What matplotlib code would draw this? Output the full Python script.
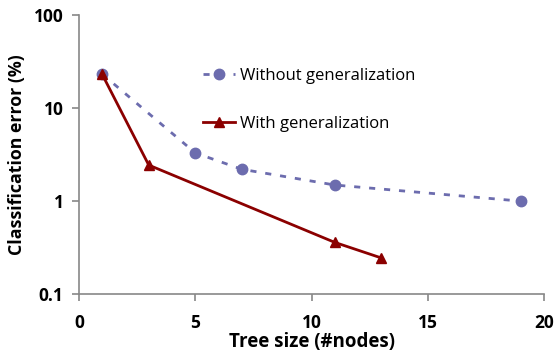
import matplotlib
matplotlib.use("Agg")
import matplotlib.pyplot as plt
from matplotlib.ticker import FixedLocator, FixedFormatter, NullLocator

plt.rcParams['font.family'] = ['Open Sans', 'DejaVu Sans']

# tree size (#nodes) and classification error (%)
x_without = [1, 5, 7, 11, 19]
err_without = [23.2, 3.3, 2.2, 1.49, 1.0]
x_with = [1, 3, 11, 13]
err_with = [23.0, 2.44, 0.36, 0.245]

x_ticks = [0, 5, 10, 15, 20]
y_ticks = [0.1, 1, 10, 100]
y_labels = ["0.1", "1", "10", "100"]

fig = plt.figure(figsize=(5.59, 3.51), dpi=100)
ax = fig.add_axes([0.1413, 0.162, 0.832, 0.795])

blue = "#6C6CAE"
red = "#8B0000"

ax.plot(x_without, err_without, color=blue, linestyle=(0, (2.2, 3.2)), linewidth=2,
        marker="o", markersize=7.5, label="Without generalization")
ax.plot(x_with, err_with, color=red, linewidth=2,
        marker="^", markersize=7.5, label="With generalization")

ax.set_yscale("log")
ax.set_xlim(0, 20)
ax.set_ylim(0.1, 100)
ax.xaxis.set_major_locator(FixedLocator(x_ticks))
ax.yaxis.set_major_locator(FixedLocator(y_ticks))
ax.yaxis.set_major_formatter(FixedFormatter(y_labels))
ax.yaxis.set_minor_locator(NullLocator())

for s in ["top", "right"]:
    ax.spines[s].set_visible(False)
for s in ["left", "bottom"]:
    ax.spines[s].set_color("#888888")
    ax.spines[s].set_linewidth(1.2)
ax.tick_params(axis="both", direction="out", length=5, width=1.2, color="#888888",
               labelsize=12.5)
ax.tick_params(axis="y", pad=6)
ax.tick_params(axis="x", pad=9)
for lab in ax.get_xticklabels() + ax.get_yticklabels():
    lab.set_fontweight("bold")

ax.set_xlabel("Tree size (#nodes)", fontsize=13.5, fontweight="bold", labelpad=0)
ax.set_ylabel("Classification error (%)", fontsize=12.8, fontweight="bold", labelpad=6)

ax.legend(loc="upper left", bbox_to_anchor=(0.235, 0.863), frameon=False,
          fontsize=12, handlelength=1.9, handletextpad=0.3, labelspacing=1.9)

fig.savefig("out.png", dpi=100)
